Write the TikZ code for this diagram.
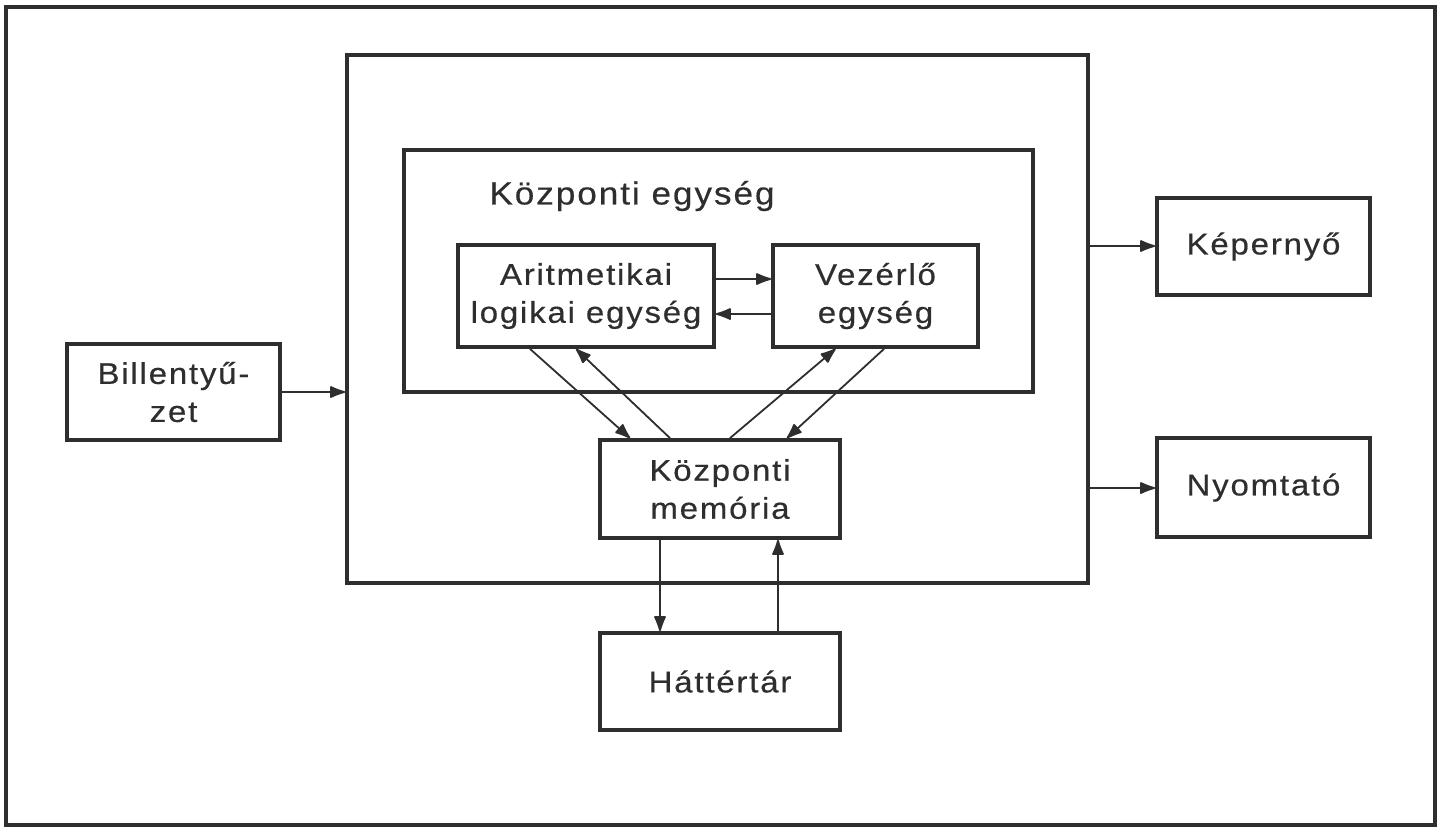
\documentclass[tikz,border=0pt]{standalone}
\usepackage{fontspec}
\setmainfont{Liberation Sans}[LetterSpace=6, FakeStretch=1.1, FakeBold=0.4]
\usetikzlibrary{arrows.meta,calc}
\definecolor{ink}{HTML}{2E2E2E}
\tikzset{
  box/.style={draw=ink, line width=1.9pt, rectangle, inner sep=0pt, align=center,
    font=\fontsize{15}{19}\selectfont, text=ink},
  arr/.style={draw=ink, line width=0.9pt, -{Latex[length=9pt,width=6.5pt,round]}},
}
\begin{document}
\begin{tikzpicture}[x=0.5pt,y=-0.5pt]
\useasboundingbox (0,0) rectangle (1442,827);
\fill[white] (0,0) rectangle (1442,827);
\node[box, line width=2pt, minimum width=1429*0.5pt, minimum height=818*0.5pt] (frame) at (720.5,416) {};
\node[box, minimum width=741*0.5pt, minimum height=528*0.5pt] (big) at (717.5,319) {};
\node[box, minimum width=629*0.5pt, minimum height=242*0.5pt] (cpu) at (718.5,271) {};
\node[text=ink, font=\fontsize{16}{19}\selectfont, inner sep=0pt] (cpulabel) at (632,196) {Központi egység};
\node[box, minimum width=256*0.5pt, minimum height=102*0.5pt] (alu) at (586,296) {Aritmetikai\\logikai egység};
\node[box, minimum width=205*0.5pt, minimum height=102*0.5pt] (vez) at (875.5,296) {Vezérlő\\egység};
\node[box, minimum width=240*0.5pt, minimum height=98*0.5pt] (mem) at (720,489) {Központi\\memória};
\node[box, minimum width=240*0.5pt, minimum height=97*0.5pt] (hat) at (720,681.5) {Háttértár};
\node[box, minimum width=213*0.5pt, minimum height=96*0.5pt] (bill) at (173.5,392) {Billentyű-\\zet};
\node[box, minimum width=213*0.5pt, minimum height=97*0.5pt] (kep) at (1263.5,246.5) {Képernyő};
\node[box, minimum width=213*0.5pt, minimum height=99*0.5pt] (nyo) at (1263.5,487.5) {Nyomtató};

\coordinate (ya) at (0,279);
\coordinate (yb) at (0,314);
\coordinate (yk) at (0,246);
\coordinate (yn) at (0,488);
\coordinate (yl) at (0,392);
\draw[arr] (alu.east |- ya) -- (vez.west |- ya);
\draw[arr] (vez.west |- yb) -- (alu.east |- yb);
\draw[arr] (bill.east |- yl) -- (big.west |- yl);
\draw[arr] (big.east |- yk) -- (kep.west |- yk);
\draw[arr] (big.east |- yn) -- (nyo.west |- yn);

\draw[arr] ($(alu.south)+(-56,0)$) -- ($(mem.north)+(-90,0)$);
\draw[arr] ($(mem.north)+(-50,0)$) -- ($(alu.south)+(-10,0)$);
\draw[arr] ($(mem.north)+(10,0)$) -- ($(vez.south)+(-40,0)$);
\draw[arr] ($(vez.south)+(8.5,0)$) -- ($(mem.north)+(67,0)$);

\draw[arr] ($(mem.south)+(-60,0)$) -- ($(hat.north)+(-60,0)$);
\draw[arr] ($(hat.north)+(58,0)$) -- ($(mem.south)+(58,0)$);
\end{tikzpicture}
\end{document}
